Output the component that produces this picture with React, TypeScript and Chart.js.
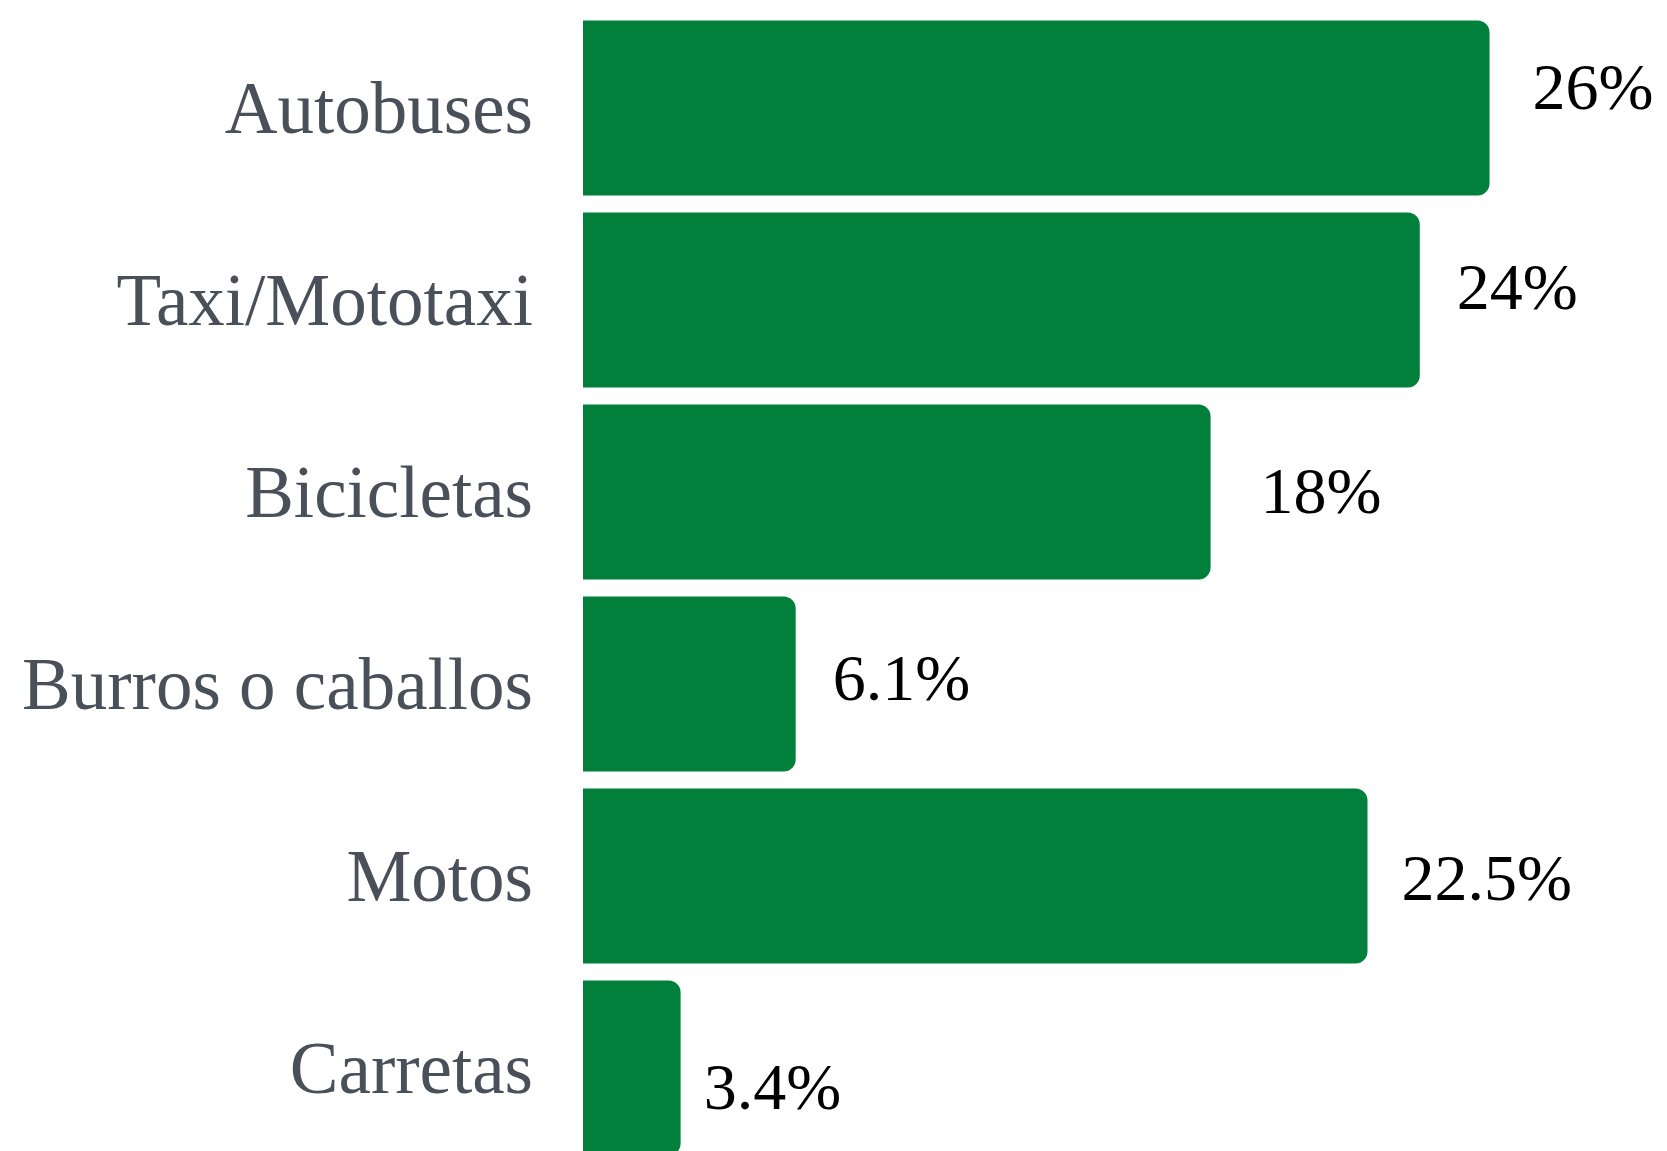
import React, { useEffect, useRef } from "react";
import { Chart, registerables } from "chart.js";

Chart.register(...registerables);

const categories = ["Autobuses", "Taxi/Mototaxi", "Bicicletas", "Burros o caballos", "Motos", "Carretas"];
const values = [26, 24, 18, 6.1, 22.5, 2.8];
const valueLabels = ["26%", "24%", "18%", "6.1%", "22.5%", "3.4%"];
// small per-label nudges (style only)
const labelNudgeX = [7, 1, 14, 1, -2, -13];
const labelNudgeY = [-16, -8, 4, -1, 7, 24];

const BAR_COLOR = "#00803a";
const CAT_COLOR = "#4a5059";
const FONT = "'Liberation Serif', 'Times New Roman', serif";

const valueLabelPlugin = {
  id: "valueLabels",
  afterDatasetsDraw(chart: any) {
    const ctx = chart.ctx;
    const meta = chart.getDatasetMeta(0);
    ctx.save();
    ctx.font = `66px ${FONT}`;
    ctx.fillStyle = "#000000";
    ctx.textAlign = "left";
    ctx.textBaseline = "middle";
    meta.data.forEach((bar: any, i: number) => {
      ctx.fillText(valueLabels[i], bar.x + 36 + labelNudgeX[i], bar.y + labelNudgeY[i]);
    });
    ctx.restore();
  },
};

export default function App() {
  const ref = useRef<HTMLCanvasElement | null>(null);
  useEffect(() => {
    document.body.style.overflow = "hidden";
    if (!ref.current) return;
    const chart = new Chart(ref.current, {
      type: "bar",
      data: {
        labels: categories,
        datasets: [
          {
            data: values,
            backgroundColor: BAR_COLOR,
            borderRadius: 12,
            borderSkipped: "start",
            categoryPercentage: 1,
            barPercentage: 0.9115,
          },
        ],
      },
      options: {
        indexAxis: "y",
        responsive: false,
        animation: false,
        layout: { padding: { top: 4, bottom: 4, left: 0, right: 30 } },
        plugins: {
          legend: { display: false },
          tooltip: { enabled: false },
        },
        scales: {
          x: {
            display: false,
            min: 0,
            max: 30,
          },
          y: {
            grid: { display: false },
            border: { display: false },
            ticks: {
              color: CAT_COLOR,
              font: { family: FONT, size: 73 },
              padding: 42,
              labelOffset: 6,
            },
            afterFit: (s: any) => {
              s.width = 575;
              s.paddingTop = 0;
              s.paddingBottom = 0;
            },
          },
        },
      },
      plugins: [valueLabelPlugin],
    });
    return () => chart.destroy();
  }, []);
  return <canvas ref={ref} width={1651} height={1160} style={{ display: "block" }} />;
}
